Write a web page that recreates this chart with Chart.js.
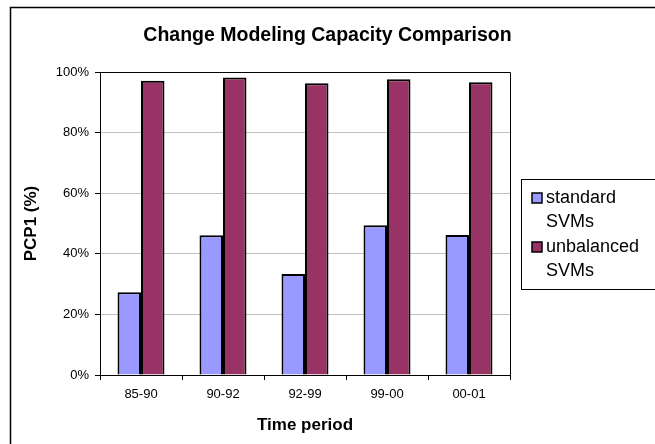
<!DOCTYPE html>
<html>
<head>
<meta charset="utf-8">
<script src="https://cdn.jsdelivr.net/npm/chart.js@4/dist/chart.umd.min.js"></script>
<style>
  html,body{margin:0;padding:0;background:#fff;}
  #wrap{width:655px;height:444px;overflow:hidden;}
</style>
</head>
<body>
<div id="wrap"><canvas id="c" width="655" height="444"></canvas></div>
<script>
/* ---- data ------------------------------------------------------------ */
const PERIODS = ["85-90","90-92","92-99","99-00","00-01"];
const STANDARD = [27.3, 46.1, 33.3, 49.4, 46.2];     // standard SVMs, %
const UNBALANCED = [97.1, 98.2, 96.3, 97.6, 96.6];   // unbalanced SVMs, %
const Y_TICKS = [0, 20, 40, 60, 80, 100];
const SERIES = ["standard SVMs", "unbalanced SVMs"];
const COLORS = ["#9999FF", "#993366"];
const TITLE = "Change Modeling Capacity Comparison";

const FONT = "Liberation Sans, Arial, sans-serif";

/* ---- frame, title + plot border -------------------------------------- */
const framePlugin = {
  id: "frame",
  beforeDraw(chart){
    const c = chart.ctx;
    c.save();
    c.fillStyle = "#fff";
    c.fillRect(0, 0, chart.width, chart.height);
    c.strokeStyle = "#000";
    c.lineWidth = 1.5;
    c.strokeRect(10.5, 7.5, 700, 500);
    c.font = "bold 19.5px " + FONT;
    c.fillStyle = "#000";
    c.textAlign = "center";
    c.textBaseline = "middle";
    c.fillText(TITLE, 327.5, 36);
    c.restore();
  },
  beforeDatasetsDraw(chart){
    const a = chart.chartArea, c = chart.ctx;
    c.save();
    c.strokeStyle = "#000";
    c.lineWidth = 1;
    c.beginPath();
    c.moveTo(a.left, a.top + 0.5);
    c.lineTo(a.right + 0.5, a.top + 0.5);
    c.lineTo(a.right + 0.5, a.bottom);
    c.stroke();
    c.restore();
  }
};

/* ---- boxed legend with wrapped labels --------------------------------- */
const legendPlugin = {
  id: "boxLegend",
  afterDraw(chart){
    const c = chart.ctx;
    const x0 = 521, y0 = 179, y1 = 289;
    c.save();
    c.strokeStyle = "#000";
    c.lineWidth = 1;
    c.strokeRect(x0 + 0.5, y0 + 0.5, 200, y1 - y0);
    c.font = "18px " + FONT;
    c.textBaseline = "middle";
    let y = 198;
    chart.data.datasets.forEach(ds => {
      c.fillStyle = ds.backgroundColor;
      c.fillRect(532, y - 5, 10, 10);
      c.strokeStyle = "#000";
      c.lineWidth = 1.5;
      c.strokeRect(532, y - 5, 10, 10);
      c.fillStyle = "#000";
      ds.label.split(" ").forEach(w => { c.fillText(w, 546, y); y += 24.5; });
    });
    c.restore();
  }
};

/* ---- chart ----------------------------------------------------------- */
new Chart(document.getElementById("c"), {
  type: "bar",
  data: {
    labels: PERIODS,
    datasets: [
      { label: SERIES[0], data: STANDARD, backgroundColor: COLORS[0] },
      { label: SERIES[1], data: UNBALANCED, backgroundColor: COLORS[1] }
    ].map(d => Object.assign(d, {
      borderColor: "#000", borderWidth: 2,
      categoryPercentage: 0.573, barPercentage: 1
    }))
  },
  options: {
    responsive: false,
    animation: false,
    devicePixelRatio: 1,
    layout: { padding: { left: 0, top: 72, right: 145, bottom: 0 } },
    plugins: {
      legend: { display: false },
      tooltip: { enabled: false },
      title: { display: false }
    },
    scales: {
      x: {
        offset: true,
        grid: { display: true, drawOnChartArea: false, offset: true,
                tickLength: 5, color: "#000", tickColor: "#000" },
        border: { color: "#000", width: 1 },
        ticks: { color: "#000", font: { family: FONT, size: 13 }, padding: 7 },
        title: { display: true, text: "Time period", color: "#000",
                 font: { family: FONT, size: 17, weight: "bold", lineHeight: 1.2 },
                 padding: { top: 0, bottom: 8 } },
        afterFit: s => { s.height = 69; }
      },
      y: {
        min: 0, max: 100,
        afterBuildTicks: s => { s.ticks = Y_TICKS.map(v => ({ value: v })); },
        grid: { color: "#c0c0c0", tickColor: "#000", tickLength: 5 },
        border: { color: "#000", width: 1 },
        ticks: { color: "#000", font: { family: FONT, size: 13 }, padding: 6,
                 callback: v => v + "%" },
        title: { display: true, text: "PCP1 (%)", color: "#000",
                 font: { family: FONT, size: 17, weight: "bold", lineHeight: 1.2 },
                 padding: { top: 21, bottom: 0 } },
        afterFit: s => { s.width = 100; }
      }
    }
  },
  plugins: [framePlugin, legendPlugin]
});
</script>
</body>
</html>
